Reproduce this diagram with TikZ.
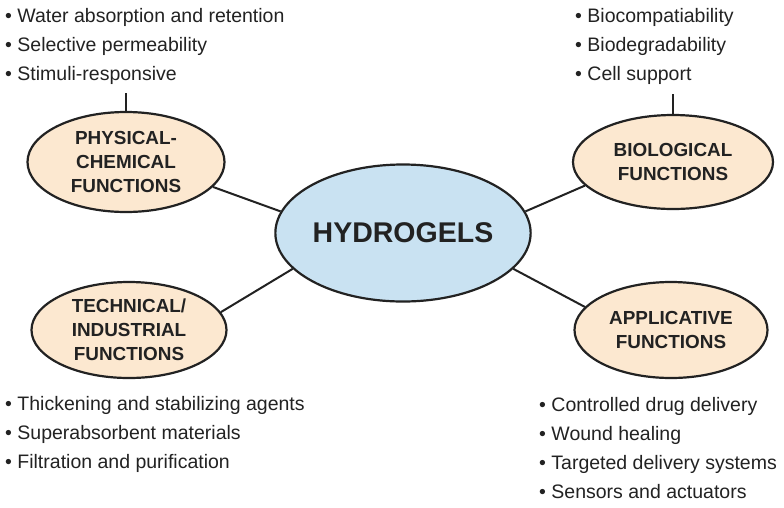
\documentclass[tikz,border=0pt]{standalone}
\usepackage{fontspec}
\setmainfont{Liberation Sans}
\usetikzlibrary{shapes.geometric}
\definecolor{gelblue}{HTML}{C9E2F2}
\definecolor{funcpeach}{HTML}{FCE8D0}
\definecolor{inkgrey}{HTML}{222222}

\begin{document}
\begin{tikzpicture}[x=1pt, y=-1pt,
	hub/.style={ellipse, draw=inkgrey, line width=2.2pt, fill=gelblue, inner sep=0pt,
		minimum width=252pt, minimum height=137pt, text=inkgrey,
		font=\fontsize{28.5}{34}\selectfont\bfseries},
	func/.style={ellipse, draw=inkgrey, line width=2.2pt, fill=funcpeach, inner sep=0pt,
		align=center, text=inkgrey, font=\fontsize{18.9}{24}\selectfont\bfseries},
	items/.style={anchor=base west, align=left, inner sep=0pt, text=inkgrey,
		font=\fontsize{19.5}{29}\selectfont},
	link/.style={line width=2pt, draw=inkgrey}]
			%%%%% START %%%%%
			\fill[white] (0, 0) rectangle (784, 507);
			\useasboundingbox (0, 0) rectangle (784, 507);
			
			% hub and the four function groups
			\node[hub] (hyd) at (403, 233) {HYDROGELS};
			\node[func, minimum width=197pt, minimum height=100pt] (pc) at (126, 162) {PHYSICAL-\\CHEMICAL\\FUNCTIONS};
			\node[func, minimum width=200pt, minimum height=94pt] (bio) at (673, 162) {BIOLOGICAL\\FUNCTIONS};
			\node[func, minimum width=195pt, minimum height=96pt] (tech) at (129, 330) {TECHNICAL/\\INDUSTRIAL\\FUNCTIONS};
			\node[func, minimum width=193pt, minimum height=96pt] (app) at (671, 330) {APPLICATIVE\\FUNCTIONS};
			
			% spokes
			\draw[link] (pc.-16) -- (hyd.170);
			\draw[link] (hyd.10) -- (bio.195);
			\draw[link] (tech.11) -- (hyd.198);
			\draw[link] (hyd.-18) -- (app.165);
			
			% bullet lists (placed by the baseline of their last line)
			\node[items] (pclist) at (5, 80) {•~Water absorption and retention\\•~Selective permeability\\•~Stimuli-responsive};
			\node[items] (biolist) at (575, 80) {•~Biocompatiability\\•~Biodegradability\\•~Cell support};
			\node[items] (techlist) at (5, 468) {•~Thickening and stabilizing agents\\•~Superabsorbent materials\\•~Filtration and purification};
			\node[items] (applist) at (539, 498) {•~Controlled drug delivery\\•~Wound healing\\•~Targeted delivery systems\\•~Sensors and actuators};
			
			\coordinate (pctop) at (126, 93);
			\coordinate (biotop) at (673, 94);
			\draw[link] (pc.north) -- (pctop);
			\draw[link] (bio.north) -- (biotop);
			%%%%% END %%%%%
\end{tikzpicture}
\end{document}
